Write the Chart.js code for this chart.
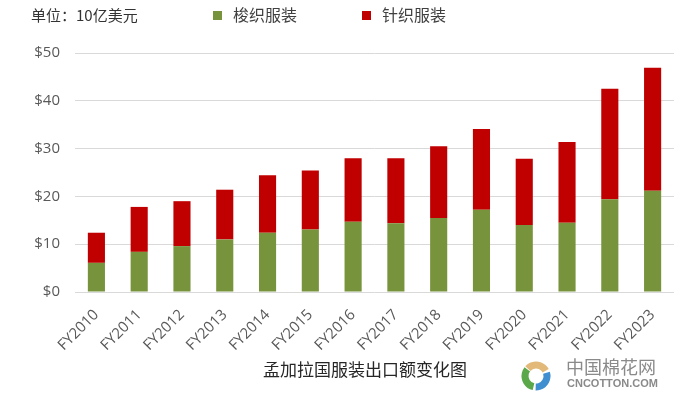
<!DOCTYPE html>
<html>
<head>
<meta charset="utf-8">
<script src="https://cdn.jsdelivr.net/npm/chart.js@4.4.0/dist/chart.umd.min.js"></script>
<style>
  body { margin: 0; background: #fff; }
  canvas { display: block; }
</style>
</head>
<body>
<canvas id="chart" width="682" height="399"></canvas>
<script>
// Bangladesh garment exports, billion USD
const years = ["FY2010", "FY2011", "FY2012", "FY2013", "FY2014", "FY2015", "FY2016",
               "FY2017", "FY2018", "FY2019", "FY2020", "FY2021", "FY2022", "FY2023"];
const woven = [6.1, 8.4, 9.6, 11.0, 12.4, 13.1, 14.7, 14.4, 15.5, 17.2, 14.0, 14.5, 19.4, 21.2];
const knit  = [6.3, 9.4, 9.4, 10.4, 12.0, 12.3, 13.3, 13.6, 15.0, 16.9, 13.9, 16.9, 23.1, 25.7];
const seriesNames = ["梭织服装", "针织服装"];
const unitText = "单位：10亿美元";
const titleText = "孟加拉国服装出口额变化图";

const CJK = '"Noto Sans CJK SC", sans-serif';
const TICK_FONT = { family: '"Open Sans", sans-serif', size: 15 };

// legend, unit label, bottom title and watermark
const extras = {
    id: "extras",
    afterDraw(c) {
        const ctx = c.ctx;
        ctx.save();
        ctx.textBaseline = "middle";
        ctx.fillStyle = "#333";
        ctx.font = "15px " + CJK;
        ctx.textAlign = "left";
        ctx.fillText(unitText, 31, 15);

        const legendX = [213, 362];
        c.data.datasets.forEach((ds, i) => {
            ctx.fillStyle = ds.backgroundColor;
            ctx.fillRect(legendX[i], 11, 9, 9);
            ctx.fillStyle = "#404040";
            ctx.font = "16px " + CJK;
            ctx.fillText(ds.label, legendX[i] + 20, 15);
        });

        ctx.fillStyle = "#262626";
        ctx.font = "17px " + CJK;
        ctx.textAlign = "center";
        ctx.fillText(titleText, 365, 370);

        // watermark
        const cx = 536, cy = 376;
        const arcs = [["#e2b978", -2.4, -0.5], ["#3f8fd0", -0.3, 1.6], ["#5aa84a", 1.8, 3.8]];
        ctx.lineWidth = 7;
        arcs.forEach(a => {
            ctx.strokeStyle = a[0];
            ctx.beginPath();
            ctx.arc(cx, cy, 11, a[1], a[2]);
            ctx.stroke();
        });
        ctx.fillStyle = "#8a8a8a";
        ctx.font = "18px " + CJK;
        ctx.textAlign = "left";
        ctx.fillText("中国棉花网", 566, 367);
        ctx.font = 'bold 11px "Liberation Sans", sans-serif';
        ctx.fillText("CNCOTTON.COM", 567, 384);
        ctx.restore();
    }
};

new Chart(document.getElementById("chart"), {
    type: "bar",
    data: {
        labels: years,
        datasets: [
            { label: seriesNames[0], data: woven, backgroundColor: "#77933C" },
            { label: seriesNames[1], data: knit, backgroundColor: "#C00000" }
        ]
    },
    options: {
        responsive: false,
        animation: false,
        layout: { padding: { top: 53, right: 8, left: 0, bottom: 0 } },
        datasets: { bar: { barPercentage: 0.4, categoryPercentage: 1.0 } },
        plugins: { legend: { display: false }, tooltip: { enabled: false } },
        scales: {
            x: {
                stacked: true,
                grid: { display: false },
                border: { display: false },
                ticks: { color: "#595959", font: TICK_FONT, minRotation: 45, maxRotation: 45, padding: 6 },
                afterFit(s) { s.height = 107; }
            },
            y: {
                stacked: true,
                min: 0,
                max: 50,
                grid: { color: "#D9D9D9", lineWidth: 1, drawTicks: false },
                border: { display: false },
                ticks: {
                    stepSize: 10,
                    color: "#595959",
                    font: TICK_FONT,
                    padding: 15,
                    callback: v => "$" + v
                },
                afterFit(s) { s.width = 75; }
            }
        }
    },
    plugins: [extras]
});
</script>
</body>
</html>
